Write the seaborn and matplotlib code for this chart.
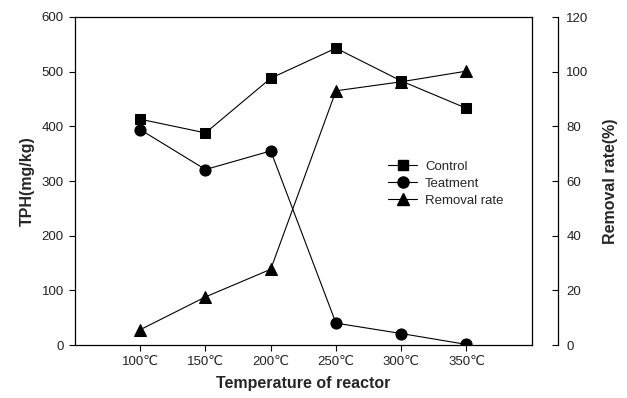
import matplotlib
matplotlib.use("Agg")
import matplotlib.pyplot as plt
import seaborn as sns
import pandas as pd
from matplotlib.lines import Line2D

temps = [100, 150, 200, 250, 300, 350]
tick_labels = ["100℃", "150℃", "200℃", "250℃", "300℃", "350℃"]
control = [413, 388, 488, 543, 483, 433]
treatment = [394, 321, 355, 40, 21, 1]
removal = [5.6, 17.6, 27.7, 93.0, 96.3, 100.2]

sns.set_theme(style="ticks")
plt.rcParams["font.family"] = ["Liberation Sans", "DejaVu Sans"]

df = pd.DataFrame({"temp": temps, "control": control, "treatment": treatment, "removal": removal})

fig = plt.figure(figsize=(6.27, 3.98), dpi=100)
ax = fig.add_axes([75 / 627, 1 - 345 / 398, (531.7 - 75) / 627, (345 - 17) / 398])

lw = 0.8
sns.lineplot(data=df, x="temp", y="control", ax=ax, color="black", marker="s",
             markersize=7.5, linewidth=lw, markeredgecolor="black")
sns.lineplot(data=df, x="temp", y="treatment", ax=ax, color="black", marker="o",
             markersize=8, linewidth=lw, markeredgecolor="black")
ax.set_xlim(50, 400)
ax.set_ylim(0, 600)
ax.set_xticks(temps)
ax.set_xticklabels(tick_labels)
ax.set_yticks([0, 100, 200, 300, 400, 500, 600])
ax.tick_params(axis="both", direction="out", length=4, width=0.8, labelsize=9.5, pad=4, color="black", labelcolor="#222222")
ax.tick_params(axis="y", right=False)
ax.set_xlabel("Temperature of reactor", fontsize=11.5, fontweight="bold", labelpad=6)
ax.set_ylabel("TPH(mg/kg)", fontsize=11.5, fontweight="bold", labelpad=5)
for s in ax.spines.values():
    s.set_linewidth(0.9)
    s.set_color("black")

ax2 = ax.twinx()
sns.lineplot(data=df, x="temp", y="removal", ax=ax2, color="black", marker="^",
             markersize=8.5, linewidth=lw, markeredgecolor="black")
ax2.set_ylim(0, 120)
ax2.set_yticks([0, 20, 40, 60, 80, 100, 120])
ax2.spines["right"].set_position(("outward", 19))
ax2.spines["right"].set_linewidth(0.9)
ax2.spines["right"].set_color("black")
for k in ["top", "left", "bottom"]:
    ax2.spines[k].set_visible(False)
ax2.tick_params(axis="y", direction="in", length=4, width=0.8, labelsize=9.5, pad=6, color="black", labelcolor="#222222")
ax2.set_ylabel("Removal rate(%)", fontsize=11.5, fontweight="bold", labelpad=10)

handles = [
    Line2D([], [], color="black", marker="s", markersize=7.5, linewidth=lw),
    Line2D([], [], color="black", marker="o", markersize=8, linewidth=lw),
    Line2D([], [], color="black", marker="^", markersize=8.5, linewidth=lw),
]
ax.legend(handles, ["Control", "Teatment", "Removal rate"], loc="center left",
          bbox_to_anchor=(0.66, 0.492), frameon=False, fontsize=9.5,
          handlelength=2.2, handletextpad=0.6, labelspacing=0.35)

fig.savefig("out.png", dpi=100)
